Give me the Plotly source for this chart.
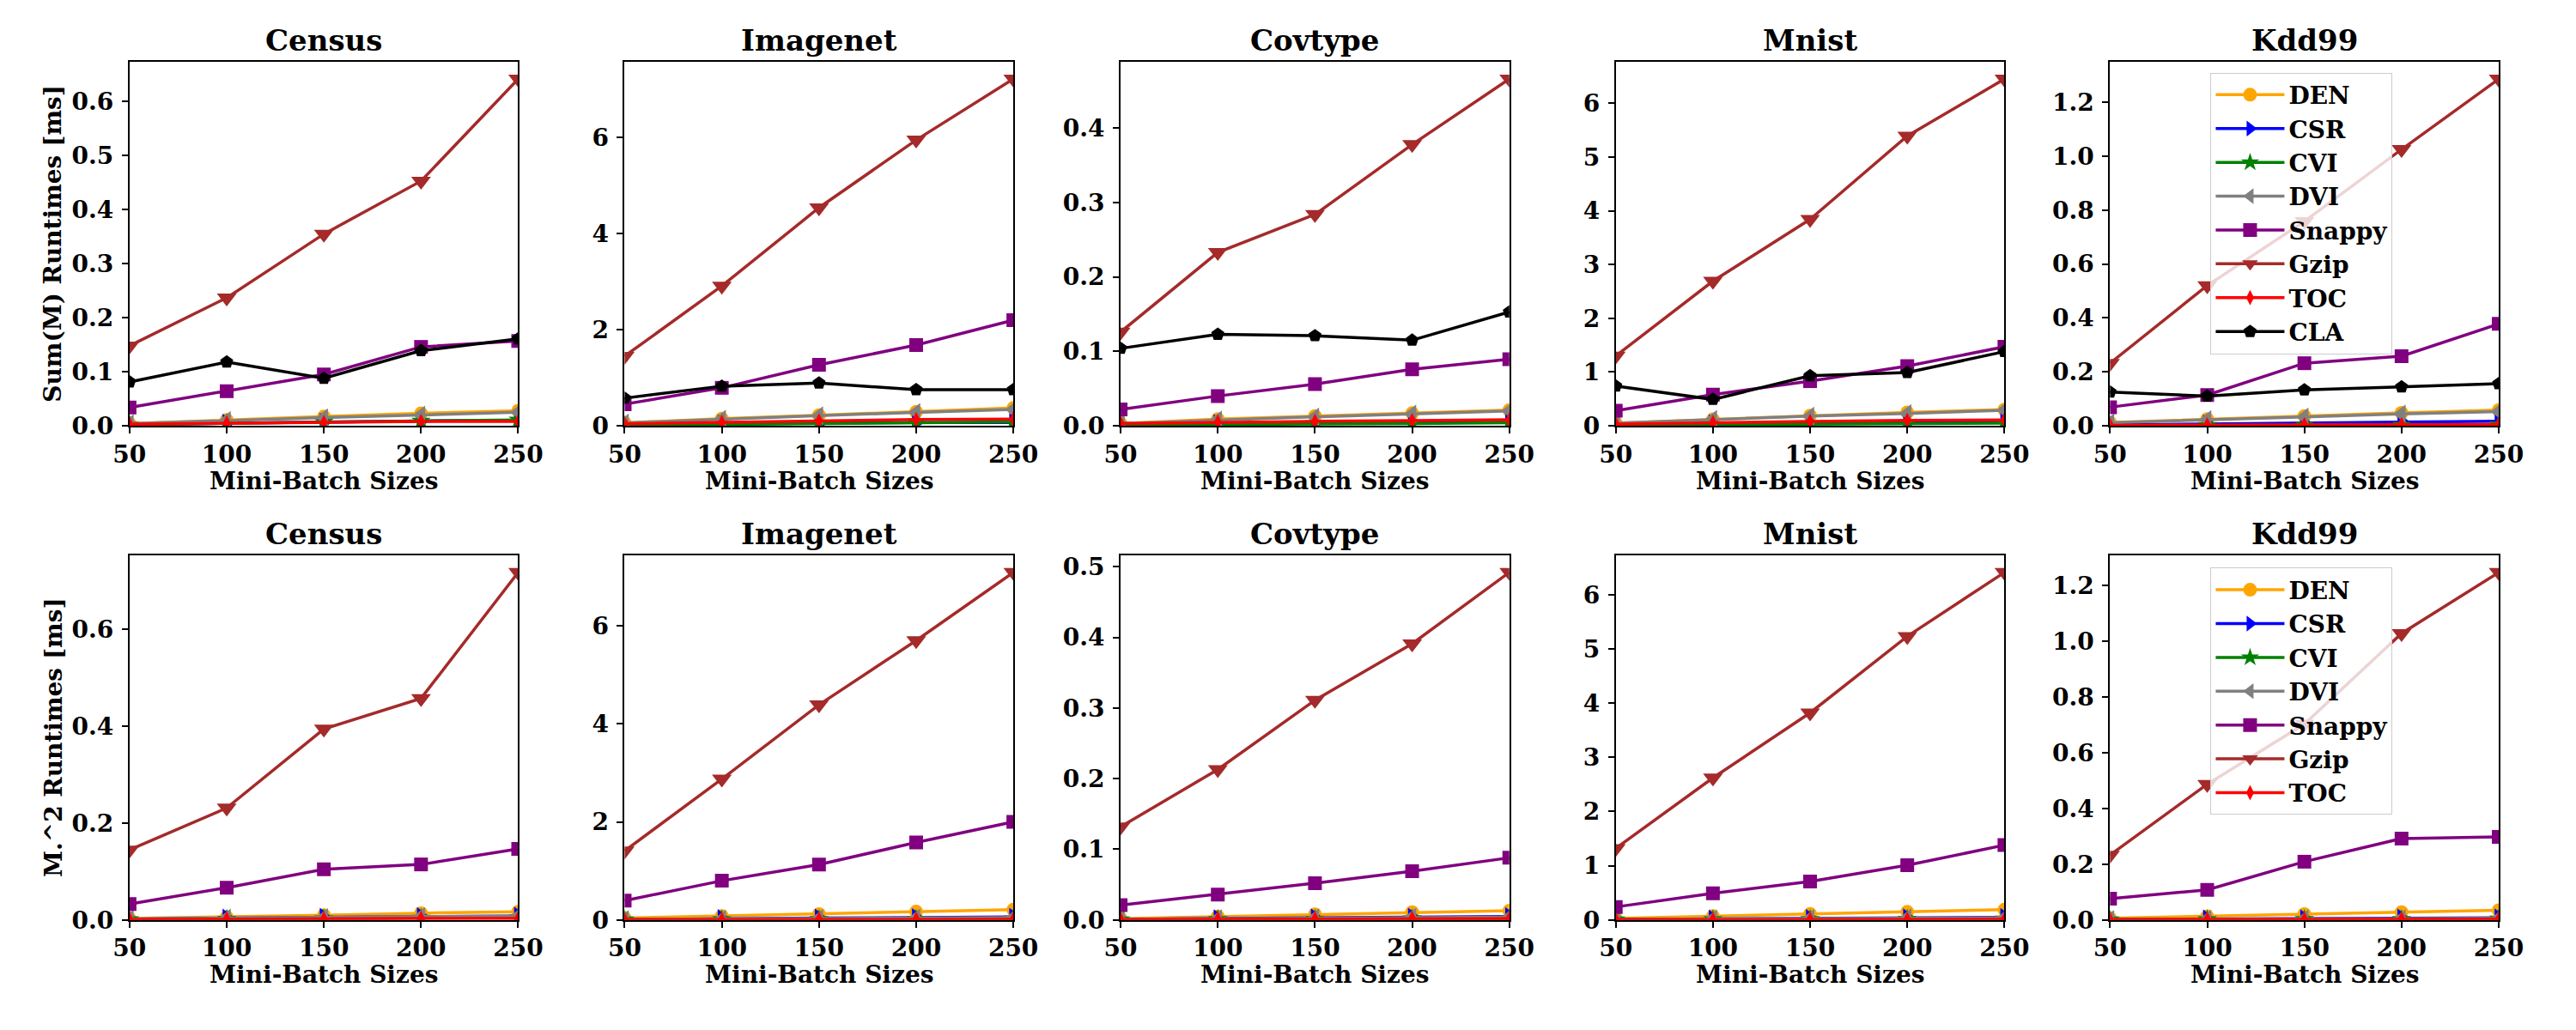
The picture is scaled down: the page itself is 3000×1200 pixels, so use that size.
import plotly.graph_objects as go

sizes = [50, 100, 150, 200, 250]
datasets = ["Census", "Imagenet", "Covtype", "Mnist", "Kdd99"]
methods = ["DEN", "CSR", "CVI", "DVI", "Snappy", "Gzip", "TOC", "CLA"]
row_labels = ["Sum(M) Runtimes [ms]", "M.^2 Runtimes [ms]"]
x_label = "Mini-Batch Sizes"

# ---- Sum(M) runtimes [ms] ----
sum_census = {
    "DEN": [0.004, 0.011, 0.017, 0.023, 0.028],
    "CSR": [0.002, 0.005, 0.007, 0.009, 0.010],
    "CVI": [0.002, 0.005, 0.007, 0.009, 0.011],
    "DVI": [0.004, 0.010, 0.015, 0.020, 0.025],
    "Snappy": [0.034, 0.064, 0.095, 0.146, 0.157],
    "Gzip": [0.148, 0.237, 0.355, 0.453, 0.642],
    "TOC": [0.003, 0.005, 0.006, 0.008, 0.008],
    "CLA": [0.081, 0.118, 0.088, 0.139, 0.161],
}
sum_imagenet = {
    "DEN": [0.06, 0.15, 0.22, 0.29, 0.37],
    "CSR": [0.02, 0.04, 0.05, 0.07, 0.07],
    "CVI": [0.01, 0.03, 0.05, 0.06, 0.08],
    "DVI": [0.06, 0.14, 0.21, 0.28, 0.34],
    "Snappy": [0.45, 0.79, 1.27, 1.68, 2.20],
    "Gzip": [1.45, 2.91, 4.54, 5.95, 7.22],
    "TOC": [0.04, 0.07, 0.10, 0.13, 0.14],
    "CLA": [0.575, 0.825, 0.89, 0.75, 0.75],
}
sum_covtype = {
    "DEN": [0.003, 0.009, 0.013, 0.017, 0.021],
    "CSR": [0.002, 0.003, 0.004, 0.005, 0.006],
    "CVI": [0.001, 0.002, 0.003, 0.003, 0.004],
    "DVI": [0.003, 0.008, 0.012, 0.016, 0.020],
    "Snappy": [0.022, 0.040, 0.056, 0.076, 0.0895],
    "Gzip": [0.126, 0.233, 0.284, 0.378, 0.466],
    "TOC": [0.003, 0.005, 0.006, 0.007, 0.008],
    "CLA": [0.104, 0.123, 0.121, 0.115, 0.153],
}
sum_mnist = {
    "DEN": [0.05, 0.12, 0.19, 0.25, 0.30],
    "CSR": [0.02, 0.04, 0.05, 0.06, 0.07],
    "CVI": [0.01, 0.02, 0.03, 0.04, 0.05],
    "DVI": [0.05, 0.12, 0.18, 0.23, 0.29],
    "Snappy": [0.28, 0.58, 0.83, 1.11, 1.47],
    "Gzip": [1.30, 2.69, 3.84, 5.39, 6.45],
    "TOC": [0.03, 0.06, 0.08, 0.10, 0.11],
    "CLA": [0.74, 0.49, 0.93, 0.99, 1.38],
}
sum_kdd99 = {
    "DEN": [0.012, 0.025, 0.036, 0.048, 0.058],
    "CSR": [0.003, 0.007, 0.010, 0.015, 0.017],
    "CVI": [0.001, 0.002, 0.003, 0.003, 0.004],
    "DVI": [0.011, 0.023, 0.033, 0.044, 0.053],
    "Snappy": [0.069, 0.114, 0.232, 0.258, 0.378],
    "Gzip": [0.232, 0.520, 0.758, 1.025, 1.286],
    "TOC": [0.002, 0.003, 0.004, 0.004, 0.005],
    "CLA": [0.125, 0.110, 0.133, 0.144, 0.156],
}

# ---- M.^2 runtimes [ms] ----
sq_census = {
    "DEN": [0.003, 0.006, 0.010, 0.014, 0.017],
    "CSR": [0.002, 0.004, 0.006, 0.007, 0.008],
    "CVI": [0.001, 0.002, 0.003, 0.004, 0.005],
    "DVI": [0.002, 0.004, 0.005, 0.007, 0.008],
    "Snappy": [0.033, 0.0666, 0.1045, 0.1145, 0.1465],
    "Gzip": [0.1445, 0.231, 0.394, 0.457, 0.717],
    "TOC": [0.001, 0.002, 0.002, 0.003, 0.003],
}
sq_imagenet = {
    "DEN": [0.04, 0.08, 0.12, 0.17, 0.21],
    "CSR": [0.01, 0.03, 0.04, 0.05, 0.06],
    "CVI": [0.005, 0.01, 0.015, 0.02, 0.025],
    "DVI": [0.01, 0.02, 0.03, 0.04, 0.05],
    "Snappy": [0.395, 0.80, 1.13, 1.58, 2.00],
    "Gzip": [1.41, 2.875, 4.39, 5.70, 7.09],
    "TOC": [0.003, 0.006, 0.010, 0.012, 0.015],
}
sq_covtype = {
    "DEN": [0.002, 0.005, 0.008, 0.011, 0.013],
    "CSR": [0.001, 0.002, 0.003, 0.004, 0.005],
    "CVI": [0.0005, 0.001, 0.0015, 0.002, 0.002],
    "DVI": [0.001, 0.002, 0.003, 0.004, 0.004],
    "Snappy": [0.021, 0.036, 0.052, 0.069, 0.088],
    "Gzip": [0.132, 0.213, 0.311, 0.391, 0.492],
    "TOC": [0.0005, 0.001, 0.0015, 0.002, 0.002],
}
sq_mnist = {
    "DEN": [0.03, 0.07, 0.11, 0.15, 0.19],
    "CSR": [0.01, 0.02, 0.03, 0.04, 0.05],
    "CVI": [0.005, 0.01, 0.013, 0.017, 0.02],
    "DVI": [0.01, 0.02, 0.03, 0.04, 0.04],
    "Snappy": [0.24, 0.49, 0.71, 1.01, 1.38],
    "Gzip": [1.32, 2.62, 3.82, 5.23, 6.41],
    "TOC": [0.003, 0.006, 0.008, 0.010, 0.012],
}
sq_kdd99 = {
    "DEN": [0.006, 0.013, 0.021, 0.028, 0.035],
    "CSR": [0.002, 0.004, 0.005, 0.007, 0.008],
    "CVI": [0.001, 0.002, 0.003, 0.003, 0.004],
    "DVI": [0.002, 0.003, 0.004, 0.005, 0.006],
    "Snappy": [0.076, 0.108, 0.209, 0.292, 0.298],
    "Gzip": [0.233, 0.487, 0.703, 1.028, 1.247],
    "TOC": [0.001, 0.002, 0.002, 0.003, 0.003],
}

rows_data = [
    [sum_census, sum_imagenet, sum_covtype, sum_mnist, sum_kdd99],
    [sq_census, sq_imagenet, sq_covtype, sq_mnist, sq_kdd99],
]

# ---- styles ----
colors = {"DEN": "orange", "CSR": "blue", "CVI": "green", "DVI": "gray",
          "Snappy": "purple", "Gzip": "brown", "TOC": "red", "CLA": "black"}
symbols = {"DEN": "circle", "CSR": "triangle-right", "CVI": "star",
           "DVI": "triangle-left", "Snappy": "square", "Gzip": "triangle-down",
           "TOC": "diamond-tall", "CLA": "pentagon"}
msizes = {"DEN": 16, "CSR": 19, "CVI": 17, "DVI": 19, "Snappy": 16,
          "Gzip": 20, "TOC": 13, "CLA": 16}
tick_steps = [[0.1, 2, 0.1, 1, 0.2], [0.2, 2, 0.1, 1, 0.2]]
tick_fmts = [[".1f", "d", ".1f", "d", ".1f"], [".1f", "d", ".1f", "d", ".1f"]]

W, H = 3000, 1200
col_left = [134, 720, 1307, 1893, 2478]
col_w = 460
row_top = [71, 655]
row_bot = [502, 1087]

FONT = "DejaVu Serif"
fig = go.Figure()
annotations = []

for r in range(2):
    for c in range(5):
        idx = r * 5 + c + 1
        xa = "x" if idx == 1 else f"x{idx}"
        ya = "y" if idx == 1 else f"y{idx}"
        data = rows_data[r][c]
        allv = [v for m in data for v in data[m]]
        ymax, ymin = max(allv), min(allv)
        top = ymax + 0.05 * (ymax - ymin)
        for m in methods:
            if m not in data:
                continue
            fig.add_trace(go.Scatter(
                x=sizes, y=data[m], mode="lines+markers", name=m,
                line=dict(color=colors[m], width=3.5),
                marker=dict(symbol=symbols[m], size=msizes[m], color=colors[m]),
                xaxis=xa, yaxis=ya,
                showlegend=(c == 4),
                legend="legend" if r == 0 else "legend2",
            ))
        xkey = "xaxis" if idx == 1 else f"xaxis{idx}"
        ykey = "yaxis" if idx == 1 else f"yaxis{idx}"
        axcommon = dict(showline=True, linecolor="black", linewidth=2, mirror=True,
                        ticks="outside", ticklen=7, tickwidth=2, tickcolor="black",
                        showgrid=False, zeroline=False,
                        tickfont=dict(family=FONT, size=28, color="black", weight="bold"))
        fig.update_layout(**{
            xkey: dict(axcommon, domain=[col_left[c] / W, (col_left[c] + col_w) / W],
                       range=[50, 250], tickvals=sizes, anchor=ya),
            ykey: dict(axcommon, domain=[1 - row_bot[r] / H, 1 - row_top[r] / H],
                       range=[0, top], dtick=tick_steps[r][c], tick0=0,
                       tickformat=tick_fmts[r][c], anchor=xa, ticklabelstandoff=4),
        })
        dref = xa + " domain"
        yref = ya + " domain"
        annotations.append(dict(text=datasets[c], xref=dref, yref=yref, x=0.5, y=1,
                                xanchor="center", yanchor="bottom", yshift=3, showarrow=False,
                                font=dict(family=FONT, size=34, color="black", weight="bold")))
        annotations.append(dict(text=x_label, xref=dref, yref=yref, x=0.5, y=0,
                                xanchor="center", yanchor="middle", yshift=-64, showarrow=False,
                                font=dict(family=FONT, size=28, color="black", weight="bold")))
        if c == 0:
            annotations.append(dict(text=row_labels[r], xref=dref, yref=yref, x=0, y=0.5,
                                    xanchor="center", yanchor="middle", xshift=-89,
                                    textangle=-90, showarrow=False,
                                    font=dict(family=FONT, size=28, color="black", weight="bold")))

legend_common = dict(
    xanchor="left", yanchor="top", bgcolor="rgba(255,255,255,0.8)",
    bordercolor="#cccccc", borderwidth=1, itemwidth=80,
    font=dict(family=FONT, size=28, color="black", weight="bold"),
    tracegroupgap=0,
)
fig.update_layout(
    width=W, height=H,
    margin=dict(l=0, r=0, t=0, b=0),
    paper_bgcolor="white", plot_bgcolor="white",
    annotations=annotations,
    legend=dict(legend_common, x=2597 / W, y=1 - 84 / H),
    legend2=dict(legend_common, x=2597 / W, y=1 - 670 / H),
)

fig.write_html("out.html")
